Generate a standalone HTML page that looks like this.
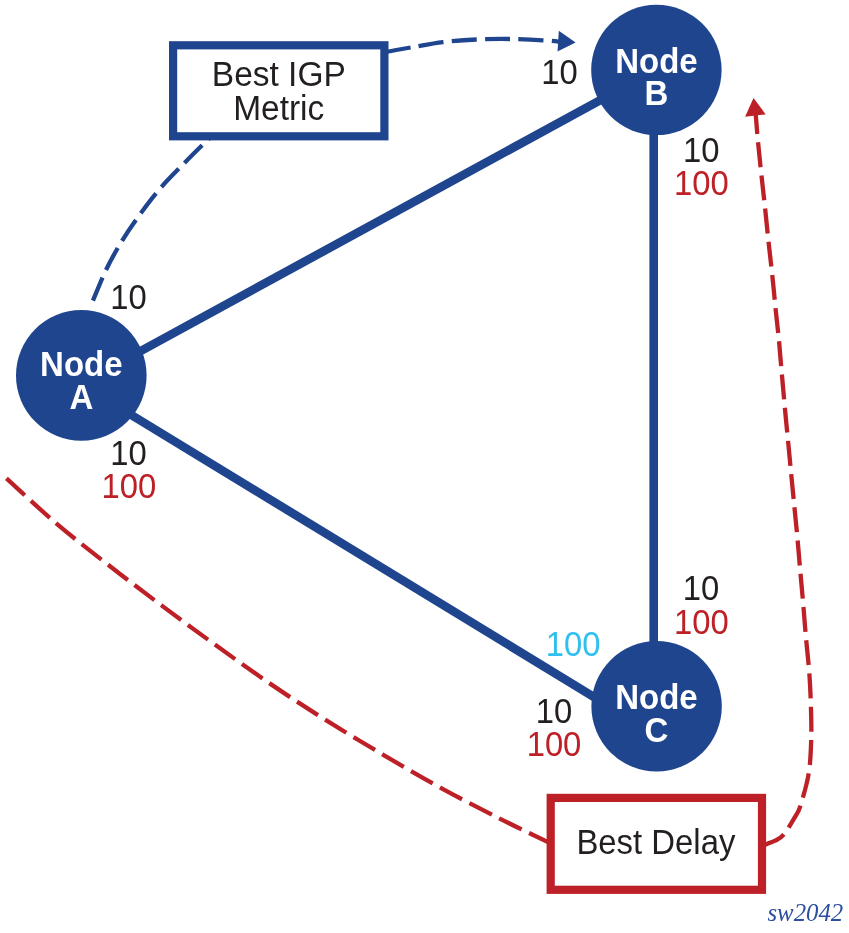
<!DOCTYPE html>
<html>
<head>
<meta charset="utf-8">
<style>
html,body{margin:0;padding:0;background:#fff;}
body{width:849px;height:933px;overflow:hidden;}
svg{display:block;will-change:transform;}
text{font-family:"Liberation Sans",sans-serif;}
.nd{font-weight:bold;font-size:33px;fill:#fff;text-anchor:middle;}
.k{font-size:32.8px;fill:#231f20;text-anchor:middle;}
.r{font-size:32.8px;fill:#bd2026;text-anchor:middle;}
.c{font-size:32.8px;fill:#30c0f0;text-anchor:middle;}
.bx{font-size:33.5px;fill:#231f20;text-anchor:middle;}
.bx2{font-size:32.9px;fill:#231f20;text-anchor:middle;}
</style>
</head>
<body>
<svg width="849" height="933" viewBox="0 0 849 933">
<rect width="849" height="933" fill="#fff"/>
<!-- links -->
<g stroke="#1f458f" stroke-width="8.6" fill="none">
<line x1="100" y1="373.3" x2="640" y2="78.4"/>
<line x1="100" y1="395.8" x2="640" y2="725.1"/>
<line x1="653.7" y1="70" x2="653.7" y2="706"/>
</g>
<!-- dashed blue -->
<g stroke="#1f458f" stroke-width="4.3" fill="none" stroke-dasharray="25 8.35">
<path d="M92.9 300.7 C95.1 295.6 101.2 280.0 106.0 270.0 C110.8 260.0 116.2 250.4 122.0 240.9 C127.8 231.4 134.4 222.0 141.0 213.0 C147.6 204.0 154.3 195.2 161.6 186.8 C168.8 178.5 177.8 169.8 184.5 162.9 C191.2 156.0 197.3 150.0 201.9 145.5 C206.5 141.0 210.3 137.6 212.0 136.0"/>
<path d="M386.0 52.0 C390.1 51.2 401.1 49.1 410.6 47.5 C420.1 45.9 432.0 43.4 443.0 42.1 C454.0 40.8 465.4 40.0 476.4 39.5 C487.4 39.0 497.9 38.9 509.0 39.0 C520.0 39.1 534.2 39.8 542.7 40.3 C551.2 40.8 557.1 41.5 560.0 41.8"/>
</g>
<polygon points="558.8,30.7 575.6,42.4 557.5,51.5" fill="#1f458f"/>
<!-- dashed red -->
<g stroke="#bd2026" stroke-width="4.3" fill="none" stroke-dasharray="25 8.35">
<path d="M6.4 478.4 C14.8 485.9 39.4 509.1 56.5 523.6 C73.6 538.1 91.2 551.6 108.8 565.3 C126.3 579.0 144.1 592.4 161.8 605.6 C179.5 618.8 196.8 631.5 214.8 644.5 C232.8 657.5 251.8 671.2 270.0 683.6 C288.2 696.0 305.3 707.1 324.0 718.9 C342.7 730.7 362.9 742.8 382.4 754.3 C401.8 765.8 421.1 777.1 440.7 787.8 C460.2 798.5 481.1 809.2 499.7 818.6 C518.2 828.0 543.3 839.8 552.0 844.0"/>
<path d="M762.0 845.8 C764.2 844.9 771.4 842.6 775.1 840.7 C778.8 838.8 780.6 838.3 784.0 834.2 C787.4 830.1 792.6 821.1 795.4 816.3 C798.1 811.5 798.3 812.6 800.5 805.5 C802.7 798.4 806.9 784.4 808.7 773.5 C810.5 762.6 810.8 751.1 811.2 739.9 C811.6 728.6 811.2 717.1 810.9 706.0 C810.6 694.9 810.1 684.0 809.3 673.0 C808.5 662.0 807.2 650.9 806.2 640.0 C805.2 629.1 804.4 618.5 803.5 607.6 C802.6 596.7 801.6 585.9 800.6 574.8 C799.6 563.7 798.7 552.1 797.7 541.0 C796.7 529.9 795.6 518.9 794.5 507.9 C793.4 496.9 792.4 486.2 791.3 475.1 C790.2 464.0 789.2 452.5 788.1 441.4 C787.0 430.2 785.9 419.3 784.9 408.2 C783.9 397.1 782.9 385.8 781.9 374.8 C780.9 363.8 780.1 353.0 779.1 342.0 C778.1 331.0 776.7 320.0 775.6 308.9 C774.5 297.8 773.5 286.6 772.3 275.5 C771.1 264.4 769.8 253.4 768.6 242.4 C767.4 231.4 766.4 220.4 765.2 209.3 C764.0 198.2 762.7 186.9 761.5 175.8 C760.3 164.7 759.1 153.2 758.1 142.7 C757.1 132.2 756.0 118.0 755.6 113.0"/>
</g>
<polygon points="745.1,116.7 753.5,98 765.7,114.4" fill="#bd2026"/>
<!-- nodes -->
<g fill="#1f458f">
<circle cx="81.3" cy="375.4" r="65.3"/>
<circle cx="656.4" cy="69.9" r="65.2"/>
<circle cx="656.6" cy="706.3" r="65.2"/>
</g>
<g transform="translate(81.3,375.6) scale(1,1.04)"><text class="nd" x="0" y="0">Node</text></g>
<g transform="translate(81.3,409) scale(1,1.04)"><text class="nd" x="0" y="0">A</text></g>
<g transform="translate(656.4,72.6) scale(1,1.04)"><text class="nd" x="0" y="0">Node</text></g>
<g transform="translate(656.4,105.1) scale(1,1.04)"><text class="nd" x="0" y="0">B</text></g>
<g transform="translate(656.4,709) scale(1,1.04)"><text class="nd" x="0" y="0">Node</text></g>
<g transform="translate(656.4,742) scale(1,1.04)"><text class="nd" x="0" y="0">C</text></g>
<!-- boxes -->
<rect x="173.1" y="45.3" width="211.3" height="91" fill="#fff" stroke="#1f458f" stroke-width="8.2"/>
<g transform="translate(278.8,86) scale(1,1.04)"><text class="bx" x="0" y="0">Best IGP</text></g>
<g transform="translate(278.7,119.9) scale(1,1.04)"><text class="bx" x="0" y="0">Metric</text></g>
<rect x="550.7" y="797.9" width="211.3" height="91.9" fill="#fff" stroke="#bd2026" stroke-width="8.2"/>
<g transform="translate(655.9,853.5) scale(1,1.04)"><text class="bx2" x="0" y="0">Best Delay</text></g>
<!-- labels -->
<g transform="translate(559.4,84.3) scale(1,1.06)"><text class="k" x="0" y="0">10</text></g>
<g transform="translate(701.3,161.7) scale(1,1.06)"><text class="k" x="0" y="0">10</text></g>
<g transform="translate(701.3,195) scale(1,1.06)"><text class="r" x="0" y="0">100</text></g>
<g transform="translate(128.5,309) scale(1,1.06)"><text class="k" x="0" y="0">10</text></g>
<g transform="translate(128.5,465) scale(1,1.06)"><text class="k" x="0" y="0">10</text></g>
<g transform="translate(128.8,498) scale(1,1.06)"><text class="r" x="0" y="0">100</text></g>
<g transform="translate(701,600.3) scale(1,1.06)"><text class="k" x="0" y="0">10</text></g>
<g transform="translate(701.3,633.8) scale(1,1.06)"><text class="r" x="0" y="0">100</text></g>
<g transform="translate(573.2,656.2) scale(1,1.06)"><text class="c" x="0" y="0">100</text></g>
<g transform="translate(554,723) scale(1,1.06)"><text class="k" x="0" y="0">10</text></g>
<g transform="translate(554,756) scale(1,1.06)"><text class="r" x="0" y="0">100</text></g>
<text transform="translate(843.2,921) scale(1,1.03)" x="0" y="0" text-anchor="end" style="font-family:'Liberation Serif',serif;font-style:italic;font-size:24.8px;fill:#2b4f9e">sw2042</text>
</svg>
</body>
</html>
